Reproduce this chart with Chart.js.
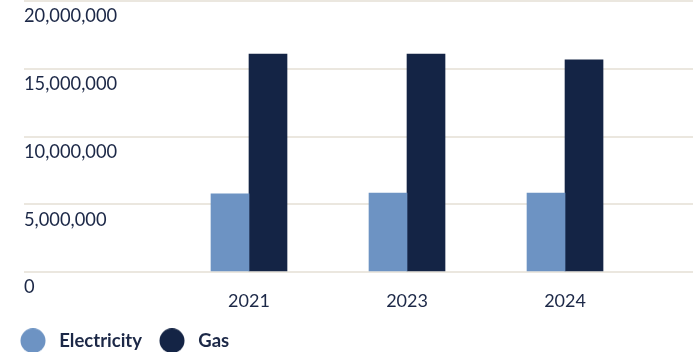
<!DOCTYPE html>
<html>
<head>
<meta charset="utf-8">
<script src="https://cdn.jsdelivr.net/npm/chart.js@4/dist/chart.umd.min.js"></script>
<style>
  html, body { margin: 0; padding: 0; background: #ffffff; }
  #wrap { width: 700px; height: 352px; position: relative; }
</style>
</head>
<body>
<div id="wrap"><canvas id="chart"></canvas></div>
<script>
// Annual energy use by source
const years = ['2021', '2023', '2024'];
const electricity = [5760000, 5830000, 5830000];
const gas = [16090000, 16090000, 15650000];
const yTicks = [0, 5000000, 10000000, 15000000, 20000000];

const TEXT = '#1c2847';
const GRID = '#ebe7df';
const ELEC = '#6d93c3';
const GAS = '#142445';

// round legend marker with extra room on both sides
function marker(color) {
  const c = document.createElement('canvas');
  c.width = 34; c.height = 25;
  const g = c.getContext('2d');
  g.fillStyle = color;
  g.beginPath();
  g.arc(17, 12.5, 12.5, 0, Math.PI * 2);
  g.fill();
  return c;
}

new Chart(document.getElementById('chart'), {
  type: 'bar',
  data: {
    datasets: [
      {
        label: 'Electricity',
        data: electricity.map((v, i) => ({ x: i, y: v })),
        backgroundColor: ELEC,
        pointStyle: marker(ELEC),
        barThickness: 38
      },
      {
        label: 'Gas',
        data: gas.map((v, i) => ({ x: i, y: v })),
        backgroundColor: GAS,
        pointStyle: marker(GAS),
        barThickness: 38
      }
    ]
  },
  options: {
    responsive: true,
    maintainAspectRatio: false,
    animation: false,
    devicePixelRatio: 1,
    layout: { padding: { left: 3, right: 7, top: 1, bottom: -8 } },
    scales: {
      x: {
        type: 'linear',
        offset: false,
        bounds: 'data',
        min: -1.424,
        max: 2.81,
        grid: { display: false, drawTicks: false },
        border: { display: false },
        afterBuildTicks: (s) => { s.ticks = years.map((_, i) => ({ value: i })); },
        afterFit: (s) => { s.height = 46.5; s.paddingLeft = 0; s.paddingRight = 0; },
        ticks: {
          autoSkip: false,
          maxRotation: 0,
          padding: 18,
          color: TEXT,
          font: { family: 'Lato', size: 18 },
          callback: (v) => years[v] ?? ''
        }
      },
      y: {
        min: 0,
        max: 20000000,
        afterBuildTicks: (s) => { s.ticks = yTicks.map(v => ({ value: v })); },
        afterFit: (s) => { s.width = 21; s.paddingTop = 0; s.paddingBottom = 0; },
        grid: { color: GRID, lineWidth: 2, drawTicks: false },
        border: { display: false },
        ticks: {
          mirror: true,
          padding: 0,
          labelOffset: 15.5,
          color: TEXT,
          font: { family: 'Lato', size: 18.3 },
          callback: (v) => v.toLocaleString('en-US')
        }
      }
    },
    plugins: {
      tooltip: { enabled: false },
      legend: {
        position: 'bottom',
        align: 'start',
        labels: {
          usePointStyle: true,
          pointStyleWidth: 34,
          padding: 13,
          color: TEXT,
          font: { family: 'Lato', size: 18.5, weight: 'bold' }
        }
      }
    }
  }
});
</script>
</body>
</html>
